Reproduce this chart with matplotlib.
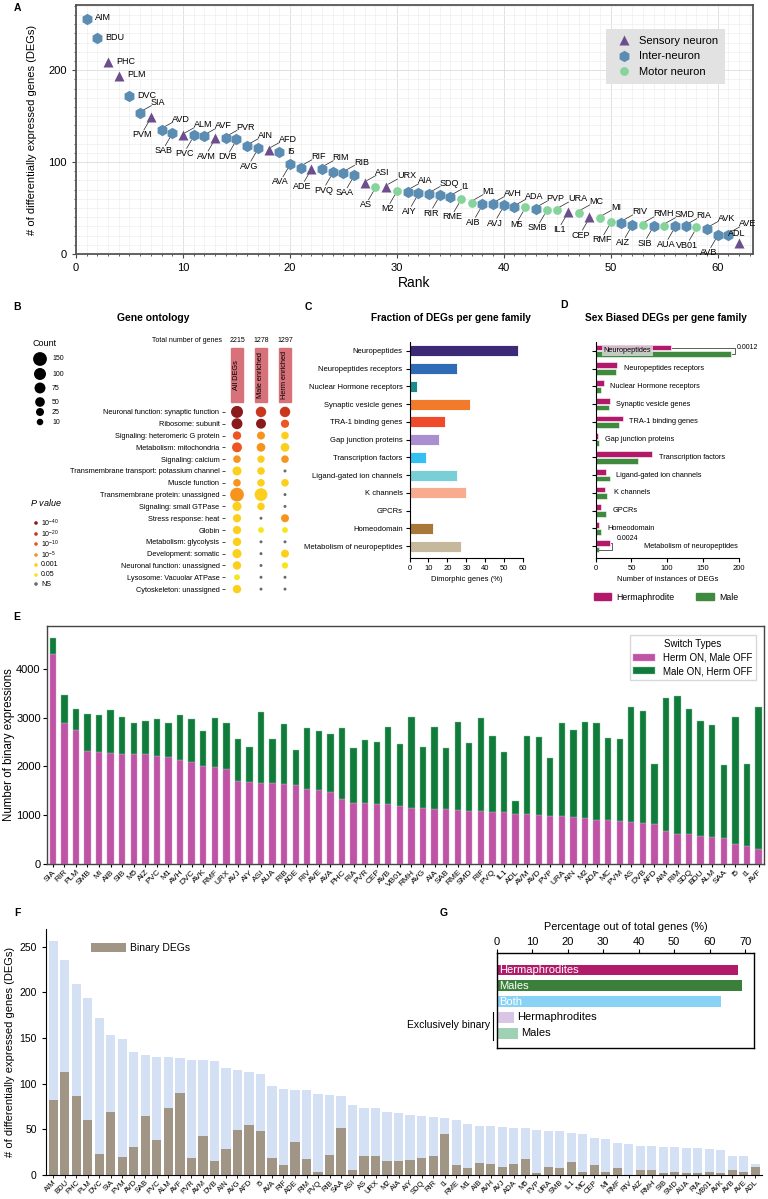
import numpy as np
import matplotlib
matplotlib.use('Agg')
import matplotlib.pyplot as plt
from matplotlib.patches import Patch, Rectangle
from matplotlib.ticker import MultipleLocator

plt.rcParams['font.family'] = ['Liberation Sans', 'DejaVu Sans']
plt.rcParams['mathtext.fontset'] = 'custom'
plt.rcParams['mathtext.rm'] = 'Liberation Sans'
plt.rcParams['mathtext.it'] = 'Liberation Sans:italic'

# ---------------- data ----------------
# neurons ranked by number of DEGs (order of panel F)
neurons = ['AIM', 'BDU', 'PHC', 'PLM', 'DVC', 'SIA', 'PVM', 'AVD', 'SAB', 'PVC', 'ALM', 'AVF',
           'PVR', 'AVM', 'DVB', 'AIN', 'AVG', 'AFD', 'I5', 'AVA', 'RIF', 'ADE', 'RIM', 'PVQ',
           'RIB', 'SAA', 'ASI', 'AS', 'URX', 'M2', 'AIA', 'AIY', 'SDQ', 'RIR', 'I1', 'RME',
           'M1', 'AIB', 'AVH', 'AVJ', 'ADA', 'M5', 'PVP', 'URA', 'SMB', 'IL1', 'MC', 'CEP',
           'MI', 'RMF', 'RIV', 'AIZ', 'RMH', 'SIB', 'SMD', 'AUA', 'RIA', 'VB01', 'AVK', 'AVB',
           'AVE', 'ADL']
deg_counts = [256, 235, 209, 194, 172, 153, 149, 135, 132, 129, 129, 128, 126, 126, 125, 117,
              115, 113, 111, 98, 94, 93, 93, 89, 88, 86, 77, 73, 73, 69, 68, 66, 65, 64, 62, 60,
              56, 54, 54, 53, 51, 51, 49, 48, 48, 46, 45, 40, 39, 35, 34, 32, 32, 31, 31, 30,
              30, 29, 27, 21, 21, 12]
binary_degs = [82, 113, 86, 60, 23, 69, 20, 31, 65, 38, 73, 90, 19, 43, 15, 29, 49, 55, 48, 19,
               11, 36, 17, 3, 22, 51, 5, 21, 21, 15, 15, 16, 19, 21, 45, 11, 8, 13, 12, 9, 12,
               18, 2, 9, 8, 14, 3, 11, 3, 8, 0, 5, 5, 2, 3, 2, 2, 3, 2, 5, 3, 9]
# panel A order (ties drawn in a slightly different order)
rank_names = ['AIM', 'BDU', 'PHC', 'PLM', 'DVC', 'SIA', 'PVM', 'AVD', 'SAB', 'ALM', 'PVC', 'AVF',
              'AVM', 'PVR', 'DVB', 'AIN', 'AVG', 'AFD', 'I5', 'AVA', 'RIF', 'ADE', 'RIM', 'PVQ',
              'RIB', 'SAA', 'ASI', 'AS', 'URX', 'M2', 'AIA', 'AIY', 'SDQ', 'RIR', 'I1', 'RME',
              'M1', 'AIB', 'AVH', 'AVJ', 'ADA', 'M5', 'PVP', 'SMB', 'URA', 'IL1', 'MC', 'CEP',
              'MI', 'RMF', 'RIV', 'AIZ', 'RMH', 'SIB', 'SMD', 'AUA', 'RIA', 'VB01', 'AVK', 'AVB',
              'AVE', 'ADL']
sensory = ['PHC', 'PLM', 'PVM', 'ALM', 'AVM', 'AFD', 'ADE', 'ASI', 'URX', 'IL1', 'CEP', 'ADL']
motor = ['AS', 'M2', 'RME', 'M1', 'M5', 'URA', 'SMB', 'MC', 'MI', 'RMF', 'RMH', 'SMD', 'VB01']

# gene ontology
go_terms = ['Neuronal function: synaptic function', 'Ribosome: subunit',
            'Signaling: heteromeric G protein', 'Metabolism: mitochondria',
            'Signaling: calcium', 'Transmembrane transport: potassium channel',
            'Muscle function', 'Transmembrane protein: unassigned',
            'Signaling: small GTPase', 'Stress response: heat', 'Globin',
            'Metabolism: glycolysis', 'Development: somatic',
            'Neuronal function: unassigned', 'Lysosome: Vacuolar ATPase',
            'Cytoskeleton: unassigned']
go_groups = ['All DEGs', 'Male enriched', 'Herm enriched']
go_totals = [2215, 1278, 1297]
go_all_count = [100, 75, 30, 55, 20, 40, 20, 150, 40, 28, 28, 30, 40, 30, 5, 30]
go_all_p = ['1e-40', '1e-40', '1e-10', '1e-10', '1e-5', '0.001', '1e-5', '1e-5', '0.001',
            '0.001', '0.001', '0.001', '0.001', '0.001', '0.05', '0.001']
go_male_count = [65, 55, 25, 35, 18, 20, 20, 120, 20, 0, 5, 0, 0, 0, 0, 0]
go_male_p = ['1e-20', '1e-40', '1e-5', '1e-5', '0.001', '0.001', '0.001', '0.001', '0.001',
             'NS', '0.05', 'NS', 'NS', 'NS', 'NS', 'NS']
go_herm_count = [65, 28, 20, 35, 20, 0, 20, 0, 0, 25, 5, 0, 25, 8, 0, 0]
go_herm_p = ['1e-20', '1e-10', '0.001', '0.001', '1e-5', 'NS', '0.001', 'NS', 'NS', '1e-5',
             '0.05', 'NS', '0.001', '0.05', 'NS', 'NS']
count_legend = [150, 100, 75, 50, 25, 10]
p_levels = ['1e-40', '1e-20', '1e-10', '1e-5', '0.001', '0.05', 'NS']
p_labels = ['$10^{-40}$', '$10^{-20}$', '$10^{-10}$', '$10^{-5}$', '0.001', '0.05', 'NS']

# gene families
families = ['Neuropeptides', 'Neuropeptides receptors', 'Nuclear Hormone receptors',
            'Synaptic vesicle genes', 'TRA-1 binding genes', 'Gap junction proteins',
            'Transcription factors', 'Ligand-gated ion channels', 'K channels', 'GPCRs',
            'Homeodomain', 'Metabolism of neuropeptides']
dimorphic_pct = [57, 25, 4.2, 31.8, 18.6, 15.6, 8.8, 25.1, 29.6, 0.5, 12.3, 27.4]
herm_instances = [106, 30, 11, 20, 38, 3, 79, 14, 13, 7, 4, 20]
male_instances = [189, 28, 8, 18, 32, 4, 59, 20, 16, 14, 7, 4]
sex_pvalues = {0: '0.0012', 11: '0.0024'}

# binary switches
e_neurons = ['SIA', 'RIR', 'PLM', 'SMB', 'MI', 'AIB', 'SIB', 'M5', 'AIZ', 'PVC', 'M1', 'AVH',
             'DVC', 'AVK', 'RMF', 'URX', 'AVJ', 'AIY', 'ASI', 'AUA', 'RIB', 'ADE', 'RIV', 'AVE',
             'AVA', 'PHC', 'RIA', 'PVR', 'CEP', 'AVB', 'VB01', 'RMH', 'AVG', 'AIA', 'SAB', 'RME',
             'SMD', 'RIF', 'PVQ', 'IL1', 'ADL', 'AVM', 'AVD', 'PVP', 'URA', 'AIN', 'M2', 'ADA',
             'MC', 'PVM', 'AS', 'DVB', 'AFD', 'AIM', 'RIM', 'SDQ', 'BDU', 'ALM', 'SAA', 'I5',
             'I1', 'AVF']
herm_on = [4300, 2900, 2750, 2315, 2295, 2275, 2260, 2253, 2247, 2220, 2185, 2123, 2096, 2007,
           1993, 1938, 1692, 1678, 1664, 1650, 1637, 1616, 1534, 1514, 1479, 1322, 1253, 1247,
           1233, 1230, 1192, 1151, 1137, 1123, 1116, 1103, 1089, 1075, 1068, 1055, 1027, 1021,
           1000, 975, 973, 952, 945, 904, 897, 870, 863, 836, 822, 678, 616, 603, 575, 548,
           534, 404, 363, 308]
total_binary = [4630, 3473, 3185, 3075, 3048, 3158, 3014, 2884, 2932, 2973, 2890, 3055, 2979,
                2719, 2986, 2890, 2568, 2390, 3116, 2555, 2870, 2330, 2780, 2725, 2675, 2790,
                2385, 2540, 2510, 2810, 2452, 3021, 2390, 2815, 2384, 2911, 2473, 2993, 2623,
                2295, 1295, 2623, 2603, 2178, 2897, 2747, 2911, 2884, 2575, 2562, 3212, 3137,
                2048, 3404, 3438, 3185, 2932, 2849, 2027, 3007, 2041, 3212]

# percentages of total genes
g_labels = ['Hermaphrodites', 'Males', 'Both', 'Hermaphrodites', 'Males']
g_values = [67.9, 69.1, 63.2, 5.0, 6.1]

# ---------------- figure ----------------
W, H = 768, 1199
fig = plt.figure(figsize=(W / 100, H / 100), dpi=100)


def px_axes(x0, y0, x1, y1):
    return fig.add_axes([x0 / W, 1 - y1 / H, (x1 - x0) / W, (y1 - y0) / H])


def fig_text(x, y, s, **kw):
    fig.text(x / W, 1 - y / H, s, **kw)


for lab, (x, y) in zip('ABCDEFG', [(14, 3), (13, 302), (305, 302), (560, 300), (13, 612),
                                   (14, 908), (440, 908)]):
    fig_text(x, y, lab, fontsize=7.5, fontweight='bold', va='top', ha='left')

# ---------- A ----------
axA = px_axes(76, 5, 753, 254)
deg_of = dict(zip(neurons, deg_counts))
a_vals = np.array([deg_of[n] for n in rank_names])
ranks = np.arange(1, len(rank_names) + 1)
kinds = np.array(['sensory' if n in sensory else 'motor' if n in motor else 'inter'
                  for n in rank_names])
marker_style = {'sensory': ('^', '#6b4f8d', 7.5, 'Sensory neuron'),
                'inter': ('h', '#5b8db3', 8.2, 'Inter-neuron'),
                'motor': ('o', '#86d49b', 6.3, 'Motor neuron')}
for k in ['sensory', 'inter', 'motor']:
    m, c, ms, lab = marker_style[k]
    sel = kinds == k
    axA.plot(ranks[sel], a_vals[sel], ls='none', marker=m, color=c, ms=ms, mec='none',
             zorder=3, label=lab)

for r, name, v in zip(ranks, rank_names, a_vals):
    if r <= 5 or name == 'I5':
        axA.text(r + 0.75, v + 1, name, fontsize=6.5, ha='left', va='center')
    elif r == len(rank_names):
        axA.text(r - 0.2, v + 5, name, fontsize=6.5, ha='center', va='bottom')
    else:
        up = (r % 2 == 0) if r < 20 else (r % 2 == 1)
        if up:
            axA.plot([r + 0.2, r + 1.05], [v + 3, v + 8.5], color='#222', lw=0.5)
            axA.text(r + 1.0, v + 7, name, fontsize=6.5, ha='left', va='bottom')
        else:
            axA.plot([r - 0.2, r - 0.65], [v - 5, v - 14], color='#222', lw=0.5)
            axA.text(r - 0.85, v - 14.5, name, fontsize=6.5, ha='center', va='top')

axA.set_xlim(0, 63.3)
axA.set_ylim(0, 271)
axA.xaxis.set_major_locator(MultipleLocator(10))
axA.xaxis.set_minor_locator(MultipleLocator(1))
axA.yaxis.set_major_locator(MultipleLocator(100))
axA.yaxis.set_minor_locator(MultipleLocator(10))
axA.grid(which='major', color='#dcdcdc', lw=0.6)
axA.grid(which='minor', color='#efefef', lw=0.5)
axA.set_axisbelow(True)
for s in axA.spines.values():
    s.set_color('#555555')
    s.set_linewidth(1.3)
axA.tick_params(which='both', labelsize=8, color='#444', length=3)
axA.tick_params(which='minor', length=1.5)
axA.set_xlabel('Rank', fontsize=10, labelpad=2)
axA.set_ylabel('# of differentially expressed genes (DEGs)', fontsize=8, labelpad=8)
axA.legend(loc='upper right', bbox_to_anchor=(0.967, 0.925), fontsize=8, frameon=True,
           facecolor='#e2e2e2', edgecolor='none', fancybox=False, framealpha=1,
           handletextpad=0.4, borderpad=0.6, labelspacing=0.5)

# ---------- B ----------
p_colors = {'1e-40': '#8b1a1a', '1e-20': '#c9381e', '1e-10': '#ee5524', '1e-5': '#f7941e',
            '0.001': '#fccf1c', '0.05': '#f6e51a', 'NS': '#6b6b6b'}


def dot_size(c):
    d = 4 + 0.8 * np.sqrt(c)
    return (d * 0.72) ** 2


axB = px_axes(225, 406, 297, 595)
rows = np.arange(len(go_terms))
for j, (cnts, ps) in enumerate([(go_all_count, go_all_p), (go_male_count, go_male_p),
                                (go_herm_count, go_herm_p)]):
    sizes = [(3 * 0.72) ** 2 if p == 'NS' else dot_size(c) for c, p in zip(cnts, ps)]
    cols = [p_colors[p] for p in ps]
    axB.scatter(np.full(len(rows), j), rows, s=sizes, c=cols, edgecolors='none', zorder=3)
    axB.add_patch(Rectangle((j - 0.25, -5.42), 0.5, 4.57, color='#d8727a', clip_on=False))
    axB.text(j, -3.1, go_groups[j], rotation=90, fontsize=5.3, ha='center', va='center')
    axB.text(j, -5.75, str(go_totals[j]), fontsize=5, ha='center', va='bottom')
axB.text(-0.62, -5.75, 'Total number of genes', fontsize=5, ha='right', va='bottom')
axB.set_xlim(-0.5, 2.5)
axB.set_ylim(15.5, -0.5)
axB.set_yticks(rows)
axB.set_yticklabels(go_terms, fontsize=5.3)
axB.set_xticks([])
axB.tick_params(axis='y', length=2, width=0.5, pad=2)
for s in axB.spines.values():
    s.set_visible(False)

axBL = px_axes(20, 335, 100, 595)
axBL.set_xlim(20, 100)
axBL.set_ylim(595, 335)
axBL.axis('off')
axBL.text(45, 344, 'Count', fontsize=6.5, ha='center', va='center')
for c, yy in zip(count_legend, [359, 374, 388, 402, 412, 422]):
    axBL.scatter(40, yy, s=dot_size(c), c='black', edgecolors='none')
    axBL.text(52, yy, str(c), fontsize=5, ha='left', va='center')
axBL.text(30, 503, '$P$ value', fontsize=6.5, ha='left', va='center', style='italic')
for p, lab, yy in zip(p_levels, p_labels, [523, 534, 544, 555, 565, 575, 584]):
    axBL.scatter(36, yy, s=(3.6 * 0.72) ** 2, c=p_colors[p], edgecolors='none')
    axBL.text(41, yy, lab, fontsize=5, ha='left', va='center')
fig_text(153, 318, 'Gene ontology', fontsize=7.5, fontweight='bold', ha='center', va='center')

# ---------- C ----------
family_colors = ['#3c2a77', '#2f6cb5', '#1a8a8c', '#f27b2b', '#ef4a2b', '#a98fcf', '#34c0f0',
                 '#78cfd6', '#f8ab8f', '#d9484a', '#a8773a', '#c5b89c']
axC = px_axes(409.5, 342, 523.3, 557.7)
yc = np.arange(len(families))
axC.barh(yc, dimorphic_pct, height=0.62, color=family_colors, edgecolor='#ffffff', lw=0.6)
axC.set_ylim(11.65, -0.5)
axC.set_xlim(0, 60)
axC.set_yticks(yc)
axC.set_yticklabels(families, fontsize=5.3)
axC.set_xticks(np.arange(0, 61, 10))
axC.tick_params(labelsize=5.5, length=3, width=0.8, pad=2)
axC.spines[['top', 'right']].set_visible(False)
for s in ['left', 'bottom']:
    axC.spines[s].set_linewidth(0.8)
axC.set_xlabel('Dimorphic genes (%)', fontsize=5.5, labelpad=3)
fig_text(451, 318, 'Fraction of DEGs per gene family', fontsize=7.3, fontweight='bold',
         ha='center', va='center')

# ---------- D ----------
herm_col, male_col = '#b3196b', '#3f8a3f'
axD = px_axes(595.7, 342, 738.7, 557.7)
axD.barh(yc - 0.19, herm_instances, height=0.32, color=herm_col, edgecolor='white', lw=0.4)
axD.barh(yc + 0.19, male_instances, height=0.32, color=male_col, edgecolor='white', lw=0.4)
for i, (h, m, fam) in enumerate(zip(herm_instances, male_instances, families)):
    if i == 0:
        axD.text(11, i, fam, fontsize=5.3, ha='left', va='center',
                 bbox=dict(facecolor='#d8d8d8', edgecolor='none', alpha=0.85, pad=1.2))
    elif i in sex_pvalues:
        axD.text(29, i - 0.25, sex_pvalues[i], fontsize=5, ha='left', va='bottom')
        axD.text(68, i, fam, fontsize=5.3, ha='left', va='center')
    else:
        axD.text(max(h, m) + 9, i, fam, fontsize=5.3, ha='left', va='center')
    if i in sex_pvalues:
        xb = max(h, m) + 6 if i == 0 else max(h, m) + 3
        axD.plot([h + 1, xb, xb, m + 1], [i - 0.19, i - 0.19, i + 0.19, i + 0.19],
                 color='#444', lw=0.6)
        if i == 0:
            axD.text(xb + 2, i - 0.19, sex_pvalues[i], fontsize=5, ha='left', va='center')
axD.set_xlim(0, 200)
axD.set_ylim(11.65, -0.5)
axD.set_yticks(yc)
axD.set_yticklabels([])
axD.set_xticks(np.arange(0, 201, 50))
axD.tick_params(labelsize=5.5, length=3, width=0.8, pad=2)
axD.spines[['top', 'right']].set_visible(False)
for s in ['left', 'bottom']:
    axD.spines[s].set_linewidth(0.8)
axD.set_xlabel('Number of instances of DEGs', fontsize=5.5, labelpad=3)
fig.legend(handles=[Patch(color=herm_col), Patch(color=male_col)],
           labels=['Hermaphrodite', 'Male'], loc='center',
           bbox_to_anchor=(666 / W, 1 - 597 / H), ncol=2, frameon=False, fontsize=6.3,
           handlelength=2.0, handleheight=0.7, columnspacing=2.5, handletextpad=0.6)
fig_text(666, 318, 'Sex Biased DEGs per gene family', fontsize=7.3, fontweight='bold',
         ha='center', va='center')

# ---------- E ----------
axE = px_axes(47, 625.7, 764.3, 863.7)
xe = np.arange(len(e_neurons))
herm_arr = np.array(herm_on)
male_arr = np.array(total_binary) - herm_arr
axE.bar(xe, herm_arr, width=0.55, color='#bf53a6', edgecolor='#d99bcc', lw=0.3,
        label='Herm ON, Male OFF')
axE.bar(xe, male_arr, bottom=herm_arr, width=0.55, color='#107b3b', edgecolor='#8fcaa3',
        lw=0.3, label='Male ON, Herm OFF')
axE.set_xlim(-0.5, 61.5)
axE.set_ylim(0, 4890)
axE.set_yticks(np.arange(0, 4001, 1000))
axE.set_xticks(xe)
axE.set_xticklabels(e_neurons, rotation=45, ha='right', rotation_mode='anchor', fontsize=6)
axE.tick_params(axis='y', labelsize=8, length=3, width=0.8, pad=1.5)
axE.tick_params(axis='x', length=2.5, width=0.8, pad=1)
for s in axE.spines.values():
    s.set_color('#444444')
    s.set_linewidth(1.0)
axE.set_ylabel('Number of binary expressions', fontsize=8.3, labelpad=1)
axE.legend(title='Switch Types', loc='upper right', bbox_to_anchor=(0.995, 0.98), fontsize=7,
           title_fontsize=7, frameon=True, fancybox=False, edgecolor='#cfcfcf',
           handlelength=2.2, handleheight=0.8, borderpad=0.4, labelspacing=0.35)

# ---------- F ----------
axF = px_axes(45.7, 929, 762.3, 1175)
xf = np.arange(len(neurons))
axF.bar(xf, deg_counts, width=0.8, color='#d4e1f4')
axF.bar(xf, binary_degs, width=0.8, color='#a19585', label='Binary DEGs')
axF.set_xlim(-0.66, 61.6)
axF.set_ylim(0, 269.5)
axF.set_yticks(np.arange(0, 251, 50))
axF.set_xticks(xf)
axF.set_xticklabels(neurons, rotation=45, ha='right', rotation_mode='anchor', fontsize=5.5)
axF.tick_params(axis='y', labelsize=7.5, length=3, width=0.8)
axF.tick_params(axis='x', length=2, width=0.6, pad=1)
axF.spines[['top', 'right']].set_visible(False)
for s in ['left', 'bottom']:
    axF.spines[s].set_linewidth(0.8)
axF.set_ylabel('# of differentially expressed genes (DEGs)', fontsize=8, labelpad=3)
axF.legend(loc='upper left', bbox_to_anchor=(0.05, 0.98), frameon=False, fontsize=7.5,
           handlelength=3.4, handleheight=0.9, handletextpad=0.4)

# ---------- G ----------
g_colors = ['#b01c69', '#3b7f3b', '#88d3f5', '#dac6e4', '#9fd1b4']
axG = px_axes(496.7, 953.3, 754, 1048.3)
yg = np.arange(len(g_values))
axG.barh(yg, g_values, height=0.68, color=g_colors)
for i, (lab, v) in enumerate(zip(g_labels, g_values)):
    if i < 3:
        axG.text(0.6, i, lab, color='white', fontsize=8, ha='left', va='center')
    else:
        axG.text(v + 0.7, i, lab, color='black', fontsize=8, ha='left', va='center')
axG.set_xlim(0, 72.5)
axG.set_ylim(4.95, -1.06)
axG.set_yticks([])
axG.xaxis.tick_top()
axG.xaxis.set_label_position('top')
axG.set_xticks(np.arange(0, 71, 10))
axG.tick_params(axis='x', labelsize=8, length=3, width=0.8, pad=1.5)
for s in axG.spines.values():
    s.set_linewidth(1.0)
axG.set_xlabel('Percentage out of total genes (%)', fontsize=7.8, labelpad=5)
axG.plot([-1.13, -1.13], [2.64, 4.43], color='black', lw=0.8, clip_on=False)
axG.text(-1.9, 3.5, 'Exclusively binary', fontsize=7.5, ha='right', va='center')

fig.savefig('out.png', dpi=100)
